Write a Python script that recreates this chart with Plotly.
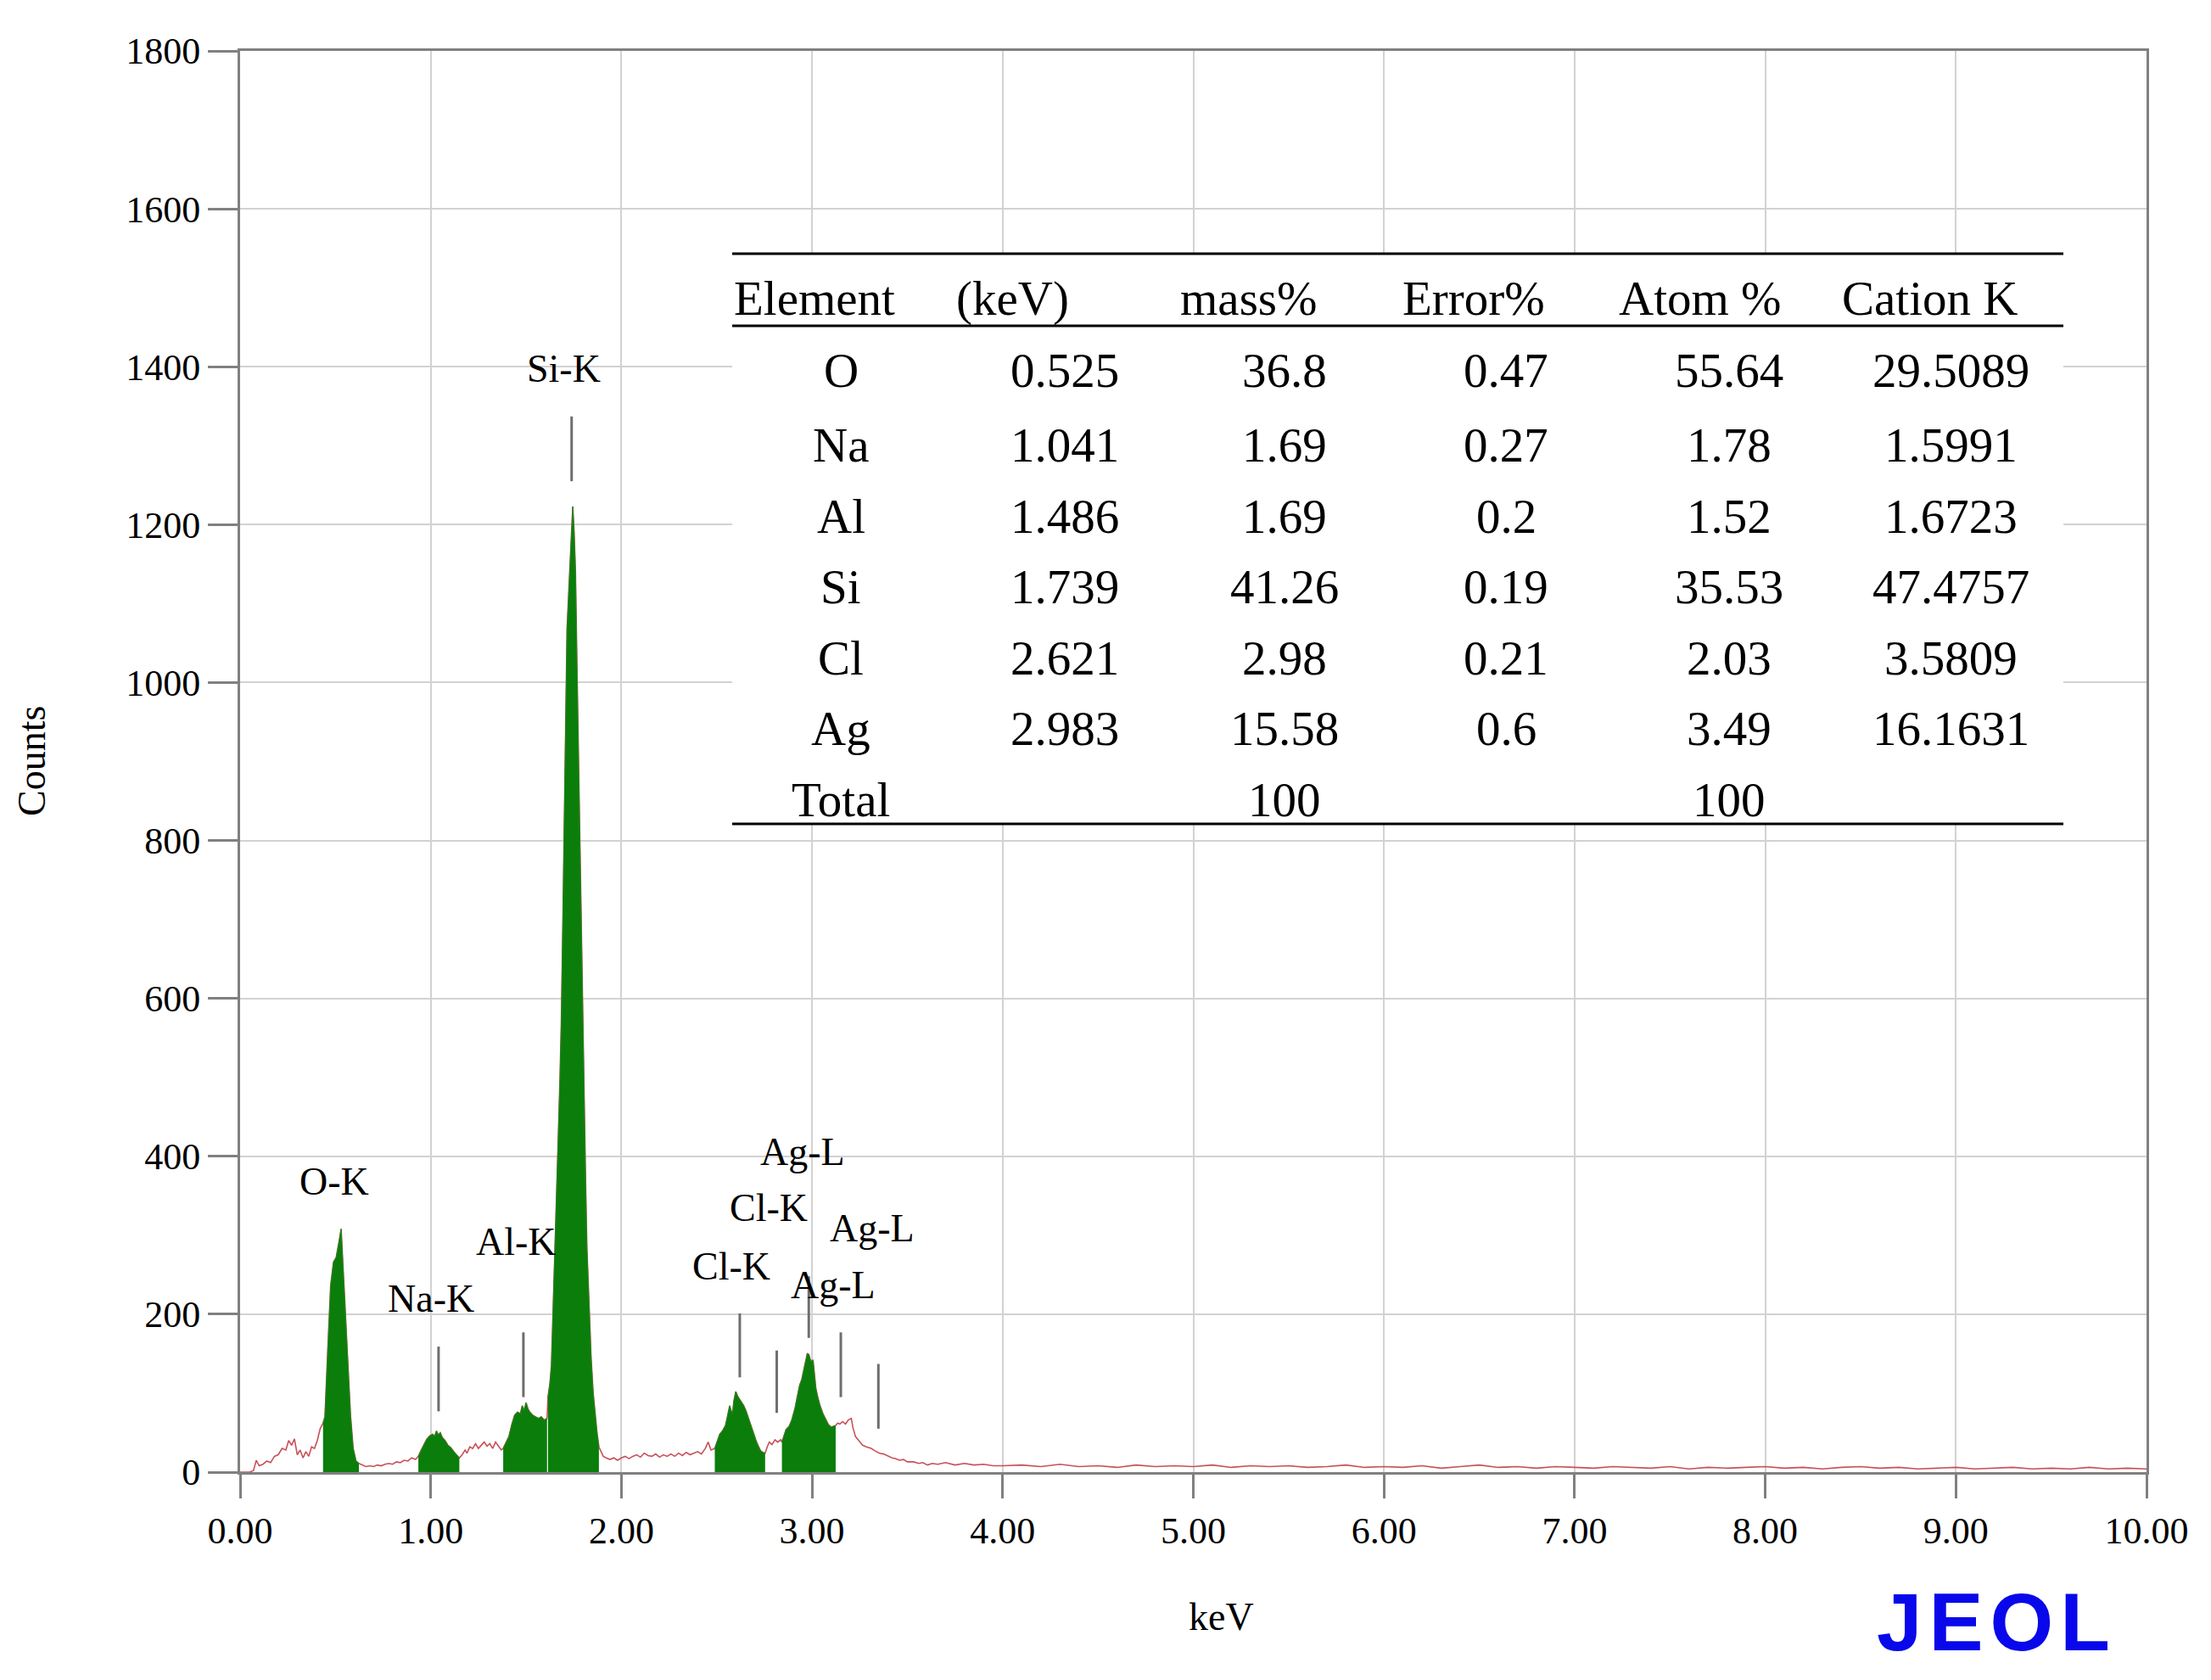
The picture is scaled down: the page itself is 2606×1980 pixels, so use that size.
import plotly.graph_objects as go

# ---------------- data ----------------
energy_kev = [
    0.00, 0.05, 0.07, 0.085, 0.10, 0.12, 0.14, 0.16, 0.18, 0.20, 0.22, 0.24, 0.255, 0.27, 0.285,
    0.30, 0.315, 0.33, 0.345, 0.36, 0.375, 0.39, 0.405, 0.42,
    0.435, 0.445, 0.46, 0.475, 0.49, 0.504, 0.519, 0.53, 0.537, 0.549, 0.564, 0.579, 0.593, 0.608, 0.623,
    0.64, 0.66, 0.68, 0.70, 0.72, 0.74, 0.76, 0.78, 0.80, 0.82, 0.84, 0.86, 0.88, 0.90, 0.92,
    0.935, 0.95, 0.965, 0.98, 0.995, 1.01, 1.02, 1.03, 1.04, 1.05, 1.06, 1.075, 1.09, 1.105, 1.12, 1.135, 1.15,
    1.165, 1.18, 1.19, 1.205, 1.22, 1.235, 1.25, 1.265, 1.28, 1.295, 1.31, 1.325, 1.34, 1.355, 1.37,
    1.38, 1.395, 1.41, 1.425, 1.44, 1.455, 1.47, 1.48, 1.49, 1.50, 1.51, 1.52, 1.535, 1.55, 1.565, 1.58, 1.595, 1.61,
    1.615, 1.625, 1.633, 1.64, 1.648, 1.66, 1.67, 1.678, 1.685, 1.693, 1.70, 1.708, 1.715, 1.725, 1.735, 1.745,
    1.752, 1.759, 1.767, 1.774, 1.782, 1.789, 1.797, 1.804, 1.812, 1.819, 1.83, 1.841, 1.852, 1.863, 1.872,
    1.882, 1.895, 1.905, 1.92, 1.94, 1.96, 1.98, 2.00, 2.02, 2.04, 2.06, 2.08, 2.10, 2.12, 2.14, 2.16, 2.18,
    2.20, 2.22, 2.24, 2.26, 2.28, 2.30, 2.32, 2.34, 2.36, 2.38, 2.40, 2.42, 2.44, 2.455, 2.47,
    2.49, 2.505, 2.516, 2.53, 2.546, 2.556, 2.568, 2.575, 2.583, 2.59, 2.60, 2.61, 2.62, 2.63, 2.642, 2.653,
    2.664, 2.675, 2.687, 2.698, 2.709, 2.72, 2.73, 2.742, 2.754,
    2.765, 2.776, 2.79, 2.806, 2.82, 2.836,
    2.842, 2.853, 2.864, 2.88, 2.894, 2.91, 2.924, 2.935, 2.946, 2.957, 2.968, 2.975, 2.983, 2.994, 3.005,
    3.013, 3.02, 3.03, 3.042, 3.057, 3.072, 3.086, 3.101, 3.112, 3.124,
    3.135, 3.146, 3.16, 3.176, 3.19, 3.206, 3.215, 3.228, 3.245, 3.265, 3.285, 3.31, 3.33, 3.354, 3.375,
    3.398, 3.42, 3.44, 3.458, 3.48, 3.50, 3.532, 3.56, 3.58, 3.606, 3.63, 3.66, 3.70, 3.75, 3.80, 3.85,
    3.90, 3.95,
    4.0, 4.1, 4.2, 4.3, 4.4, 4.5, 4.6, 4.7, 4.8, 4.9, 5.0, 5.1, 5.2, 5.3, 5.4, 5.5, 5.6, 5.7, 5.8, 5.9,
    6.0, 6.1, 6.2, 6.3, 6.4, 6.5, 6.6, 6.7, 6.8, 6.9, 7.0, 7.1, 7.2, 7.3, 7.4, 7.5, 7.6, 7.7, 7.8, 7.9,
    8.0, 8.1, 8.2, 8.3, 8.4, 8.5, 8.6, 8.7, 8.8, 8.9, 9.0, 9.1, 9.2, 9.3, 9.4, 9.5, 9.6, 9.7, 9.8, 9.9, 10.0,
]
counts = [
    0, 0, 2, 15, 8, 10, 14, 12, 20, 22, 30, 28, 40, 34, 42,
    22, 28, 18, 26, 20, 32, 30, 40, 55,
    62, 70, 155, 236, 266, 272, 292, 308, 274, 214, 138, 72, 30, 14, 11,
    9, 7, 8, 7, 9, 8, 10, 11, 10, 13, 12, 15, 14, 18, 16,
    20, 28, 35, 42, 46, 48, 45, 52, 47, 50, 44, 40, 34, 31, 26, 22, 18,
    22, 28, 24, 32, 30, 36, 30, 34, 38, 33, 36, 30, 38, 33, 28,
    30, 38, 45, 60, 72, 76, 74, 84, 78, 88, 80, 76, 72, 70, 68, 70, 66, 68,
    95, 112, 135, 190, 250, 340, 430, 500, 570, 690, 810, 940, 1068, 1120, 1180, 1223,
    1190, 1141, 1020, 913, 810, 715, 600, 470, 370, 285, 205, 145, 100, 70, 50,
    32, 24, 20, 18, 16, 18, 15, 18, 20, 17, 20, 22, 19, 24, 21, 20, 23,
    19, 22, 20, 23, 20, 24, 21, 25, 22, 24, 26, 23, 30, 38, 28,
    30, 40, 48, 52, 59, 70, 84, 78, 74, 90, 102, 96, 92, 88, 84, 78,
    70, 62, 52, 45, 38, 32, 27, 25, 24,
    32, 38, 35, 41, 38, 41,
    38, 46, 54, 58, 66, 80, 99, 110, 117, 130, 145, 150, 149, 140, 142,
    125, 106, 95, 84, 74, 66, 60, 57, 58, 59,
    62, 61, 64, 61, 66, 68, 56, 45, 40, 34, 32, 30, 27, 24, 23,
    20, 18, 17, 15, 16, 13, 13, 11, 12, 9, 11, 10, 12, 9, 11, 9,
    10, 8,
    8, 9, 7, 10, 7, 8, 6, 9, 7, 8, 7, 9, 6, 8, 7, 8, 6, 7, 9, 6,
    7, 6, 8, 5, 7, 9, 6, 7, 5, 7, 6, 5, 7, 6, 5, 7, 4, 6, 5, 6,
    7, 5, 6, 4, 6, 7, 5, 6, 4, 5, 6, 4, 5, 6, 4, 5, 4, 6, 4, 5, 4,
]

# regions of interest (green filled)
roi_start = [0.435, 0.935, 1.38, 1.615, 2.49, 2.842]
roi_end = [0.623, 1.15, 1.61, 1.882, 2.754, 3.124]

# peak marker lines
marker_kev = [1.041, 1.486, 1.739, 2.621, 2.815, 2.983, 3.151, 3.348]
marker_low = [77, 95, 1255, 120, 75, 170, 95, 55]
marker_high = [159, 177, 1337, 201, 154, 248, 177, 137]

# peak labels
label_text = ["O-K", "Na-K", "Al-K", "Si-K", "Cl-K", "Cl-K", "Ag-L", "Ag-L", "Ag-L"]
label_kev = [0.494, 1.00, 1.447, 1.70, 2.577, 2.773, 2.951, 3.316, 3.111]
label_counts = [368, 220, 292, 1398, 261, 335, 406, 309, 237]

# table
tbl_header = ["Element", "(keV)", "mass%", "Error%", "Atom %", "Cation K"]
tbl_element = ["O", "Na", "Al", "Si", "Cl", "Ag", "Total"]
tbl_kev = ["0.525", "1.041", "1.486", "1.739", "2.621", "2.983", ""]
tbl_mass = ["36.8", "1.69", "1.69", "41.26", "2.98", "15.58", "100"]
tbl_error = ["0.47", "0.27", "0.2", "0.19", "0.21", "0.6", ""]
tbl_atom = ["55.64", "1.78", "1.52", "35.53", "2.03", "3.49", "100"]
tbl_cation = ["29.5089", "1.5991", "1.6723", "47.4757", "3.5809", "16.1631", ""]

x_ticks = [0, 1, 2, 3, 4, 5, 6, 7, 8, 9, 10]
y_ticks = [0, 200, 400, 600, 800, 1000, 1200, 1400, 1600, 1800]

# ---------------- figure ----------------
# page has an 8px body margin; plot area in page pixels: x 283..2530, y 60..1735
W, H = 2590, 1964
L, T = 275, 52
PW, PH = 2247, 1675
R, B = W - L - PW, H - T - PH
PAGE_L, PAGE_T = 283, 60


def px(xp):
    return (xp - PAGE_L) / PW


def py(yp):
    return (PAGE_T + PH - yp) / PH


SERIF = "Liberation Serif, Times New Roman, serif"
fig = go.Figure()

# spectrum line
fig.add_trace(go.Scatter(x=energy_kev, y=counts, mode="lines",
                         line=dict(color="#c8505a", width=1.6), hoverinfo="skip", showlegend=False))

# green ROI fills
for s, e in zip(roi_start, roi_end):
    xs = [x for x in energy_kev if s - 1e-9 <= x <= e + 1e-9]
    ys = [c for x, c in zip(energy_kev, counts) if s - 1e-9 <= x <= e + 1e-9]
    fig.add_trace(go.Scatter(x=xs, y=ys, mode="lines", fill="tozeroy",
                             fillcolor="#0b7d0b", line=dict(color="#1a8a1a", width=1),
                             hoverinfo="skip", showlegend=False))

# marker lines
mx, my = [], []
for k, lo, hi in zip(marker_kev, marker_low, marker_high):
    mx += [k, k, None]
    my += [lo, hi, None]
fig.add_trace(go.Scatter(x=mx, y=my, mode="lines", line=dict(color="#6e6e6e", width=3),
                         hoverinfo="skip", showlegend=False))

# peak labels
for t, xk, yc in zip(label_text, label_kev, label_counts):
    fig.add_annotation(x=xk, y=yc, xref="x", yref="y", text=t, showarrow=False,
                       font=dict(family=SERIF, size=46, color="black"),
                       xanchor="center", yanchor="middle")

# table background and rules
tx0, tx1 = px(863), px(2432)
fig.add_shape(type="rect", xref="paper", yref="paper", x0=tx0, x1=tx1, y0=py(971), y1=py(299),
              fillcolor="white", line=dict(width=0), layer="above")
for yl in [299, 384, 971]:
    fig.add_shape(type="line", xref="paper", yref="paper", x0=tx0, x1=tx1, y0=py(yl), y1=py(yl),
                  line=dict(color="black", width=3), layer="above")

TF = dict(family=SERIF, size=57, color="black")
hdr_x = [863, 1193, 1471, 1737, 2004, 2274]
for i, h in enumerate(tbl_header):
    fig.add_annotation(x=px(hdr_x[i]), y=py(352), xref="paper", yref="paper", text=h,
                       showarrow=False, font=TF, xanchor="left" if i == 0 else "center",
                       yanchor="middle")
row_y = [437, 524, 608, 691, 776, 859, 942]
col_x = [991, 1255, 1514, 1775, 2038, 2299]
cols = [tbl_element, tbl_kev, tbl_mass, tbl_error, tbl_atom, tbl_cation]
for cx, col in zip(col_x, cols):
    for ry, v in zip(row_y, col):
        if v:
            fig.add_annotation(x=px(cx), y=py(ry), xref="paper", yref="paper", text=v,
                               showarrow=False, font=TF, xanchor="center", yanchor="middle")

# axis titles
fig.add_annotation(x=px(1439), y=py(1906), xref="paper", yref="paper", text="keV", showarrow=False,
                   font=dict(family=SERIF, size=46, color="black"), xanchor="center", yanchor="middle")
fig.add_annotation(x=px(37), y=py(897), xref="paper", yref="paper", text="Counts", showarrow=False,
                   textangle=-90, font=dict(family=SERIF, size=46, color="black"),
                   xanchor="center", yanchor="middle")

# JEOL logo text
fig.add_annotation(x=px(2349), y=py(1911), xref="paper", yref="paper",
                   text="<b>J&#8202;E&#8202;O&#8202;L</b>",
                   showarrow=False, font=dict(family="Liberation Sans, Arial, sans-serif", size=96,
                                              color="#0808ea"),
                   xanchor="center", yanchor="middle")

axis_common = dict(showline=True, linecolor="#808080", linewidth=3, mirror=True,
                   ticks="outside", tickcolor="#808080", tickwidth=3,
                   showgrid=True, gridcolor="#d2d2d2", gridwidth=2, zeroline=False,
                   tickfont=dict(family=SERIF, size=44, color="black"))
fig.update_xaxes(range=[0, 10], tickvals=x_ticks, ticktext=[f"{v:.2f}" for v in x_ticks],
                 ticklen=28, **axis_common)
fig.update_yaxes(range=[0, 1800], tickvals=y_ticks, ticktext=[str(v) for v in y_ticks],
                 ticklen=35, **axis_common)

fig.update_layout(width=W, height=H, margin=dict(l=L, r=R, t=T, b=B, autoexpand=False),
                  paper_bgcolor="white", plot_bgcolor="white", showlegend=False)

fig.write_html("out.html")
